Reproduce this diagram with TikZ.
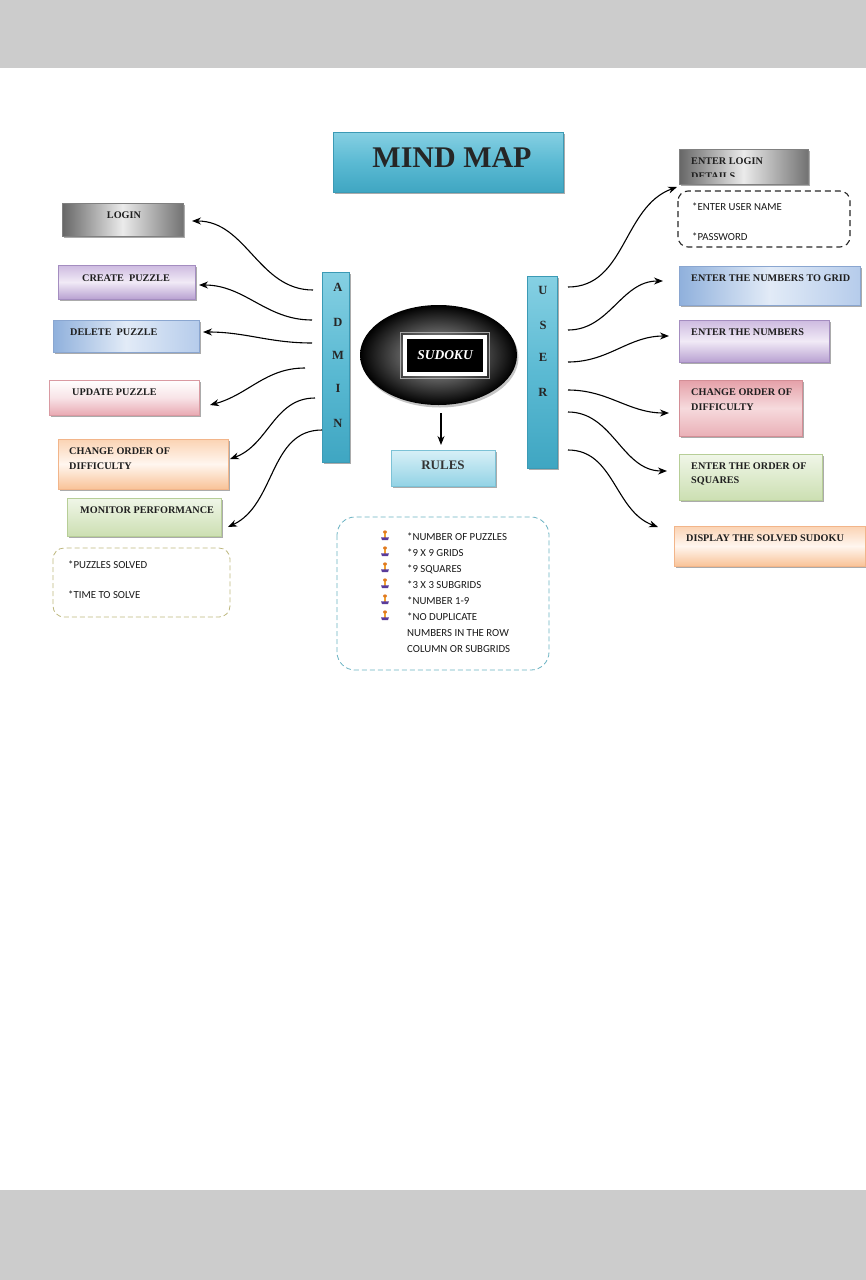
\documentclass[tikz,border=0pt]{standalone}
\usepackage{fontspec}
\setmainfont{Liberation Serif}
\newfontfamily\calfont{Carlito}
\usetikzlibrary{shadows,arrows.meta,shapes.geometric}
\definecolor{band}{HTML}{CCCCCC}
\definecolor{tealA}{HTML}{3FA6C2}
\definecolor{tealB}{HTML}{86D0E3}
\definecolor{tealC}{HTML}{5BBAD3}
\definecolor{tealD}{HTML}{3B9AB5}
\definecolor{lavA}{HTML}{CDBAE0}
\definecolor{lavB}{HTML}{F1EAF6}
\definecolor{lavC}{HTML}{B9A2D2}
\definecolor{lavD}{HTML}{A48DC0}
\definecolor{bluA}{HTML}{8FB0DC}
\definecolor{bluB}{HTML}{E2EBF7}
\definecolor{bluC}{HTML}{B6CCEB}
\definecolor{bluD}{HTML}{8AA6D0}
\definecolor{pnkA}{HTML}{E9AAB3}
\definecolor{pnkB}{HTML}{F8E4E7}
\definecolor{pnkD}{HTML}{D99AA2}
\definecolor{pnrA}{HTML}{E5A0A8}
\definecolor{pnrB}{HTML}{F6DADD}
\definecolor{pnrC}{HTML}{EAB0B7}
\definecolor{pnrD}{HTML}{D38E96}
\definecolor{pchA}{HTML}{FBD3B3}
\definecolor{pchB}{HTML}{FFF6EF}
\definecolor{pchC}{HTML}{F9C398}
\definecolor{pchD}{HTML}{F2B58A}
\definecolor{grnA}{HTML}{F0F6E8}
\definecolor{grnC}{HTML}{CCDFB2}
\definecolor{grnD}{HTML}{B7CE97}
\definecolor{rulA}{HTML}{D8F0F7}
\definecolor{rulC}{HTML}{93D3E5}
\definecolor{rulD}{HTML}{7CC2D6}
\definecolor{oliveD}{HTML}{BDB77E}
\definecolor{rulesD}{HTML}{6AB2C2}
\definecolor{bulO}{HTML}{F0A030}
\definecolor{bulR}{HTML}{E07A20}
\definecolor{bulP}{HTML}{5A3C9A}
\begin{document}
\begin{tikzpicture}[x=1pt,y=-1pt,
  box/.style={anchor=north west,inner sep=0pt,outer sep=0pt,
    drop shadow={shadow xshift=2.2pt,shadow yshift=-2.4pt,fill=black!60,opacity=.55}},
  grayb/.style={box,left color=black!60,right color=black!55,middle color=black!8,draw=black!50,line width=.5pt},
  lavb/.style={box,top color=lavA,bottom color=lavC,middle color=lavB,draw=lavD,line width=.4pt},
  blueb/.style={box,left color=bluA,right color=bluC,middle color=bluB,draw=bluD,line width=.4pt},
  pinkb/.style={box,top color=white,bottom color=pnkA,middle color=pnkB,draw=pnkD,line width=.4pt},
  pinkr/.style={box,top color=pnrA,bottom color=pnrC,middle color=pnrB,draw=pnrD,line width=.4pt},
  peachb/.style={box,top color=pchA,bottom color=pchC,middle color=pchB,draw=pchD,line width=.4pt},
  greenb/.style={box,top color=grnA,bottom color=grnC,draw=grnD,line width=.4pt},
  tealbox/.style={box,top color=tealB,bottom color=tealA,middle color=tealC,draw=tealD,line width=.6pt},
  hd/.style={font=\bfseries\fontsize{10.2}{15}\selectfont,text=black!88,inner sep=0pt,anchor=west},
  letter/.style={font=\bfseries\fontsize{12.5}{14}\selectfont,text=black!85,inner sep=0pt},
  bd/.style={font=\calfont\fontsize{10.8}{13}\selectfont,text=black!90,inner sep=0pt,anchor=west},
  conn/.style={-{Stealth[length=9pt,width=7pt]},line width=1.1pt,black}
]
\useasboundingbox (0,0) rectangle (866,1280);
\fill[band] (0,0) rectangle (866,68);
\fill[band] (0,1190) rectangle (866,1280);

% title
\node[tealbox,minimum width=230pt,minimum height=60pt] (title) at (333,132) {};
\node[font=\bfseries\fontsize{30}{34}\selectfont,text=black!85,inner sep=0pt] (titleT) at (452,158) {MIND MAP};

% central
\node[ellipse,minimum width=157pt,minimum height=100pt,inner sep=0pt,
  inner color=black!30,outer color=black,
  drop shadow={shadow xshift=1.5pt,shadow yshift=-2.5pt,fill=black!45,opacity=.5}] (ell) at (438.5,355) {};
\node[fill=black,draw=white,line width=4pt,minimum width=80pt,minimum height=37pt,inner sep=0pt,
  text=white,font=\bfseries\itshape\fontsize{13.5}{15}\selectfont] (sudoku) at (445,355.5) {SUDOKU};
\draw[black!35,line width=.5pt] ([shift={(-2.5,-2.5)}]sudoku.north west) rectangle ([shift={(2.5,2.5)}]sudoku.south east);

% rules
\node[box,top color=rulA,bottom color=rulC,draw=rulD,line width=.4pt,minimum width=104pt,minimum height=36pt] (rules) at (391,450) {};
\node[font=\bfseries\fontsize{13}{15}\selectfont,text=black!80,inner sep=0pt] (rulesT) at (443,465) {RULES};
\draw[conn,shorten <=8pt,shorten >=5pt] (ell.south -| 441,0) -- (rules.north -| 441,0);

% admin / user bars
\node[tealbox,minimum width=27pt,minimum height=190pt] (admin) at (322,272) {};
\node[letter] (ad1) at (338,287) {A};
\node[letter] (ad2) at (338,322) {D};
\node[letter] (ad3) at (338,355) {M};
\node[letter] (ad4) at (338,388) {I};
\node[letter] (ad5) at (338,423) {N};
\node[tealbox,minimum width=30pt,minimum height=192pt] (user) at (527,276) {};
\node[letter] (us1) at (543,290) {U};
\node[letter] (us2) at (543,325) {S};
\node[letter] (us3) at (543,357) {E};
\node[letter] (us4) at (543,392) {R};

% left boxes
\node[grayb,minimum width=121pt,minimum height=33pt] (login) at (62,203) {};
\node[hd,anchor=center] (loginT) at (124,215) {LOGIN};
\node[lavb,minimum width=137pt,minimum height=34pt] (create) at (58,265) {};
\node[hd] (createT) at (82,278) {CREATE\ \ PUZZLE};
\node[blueb,minimum width=146pt,minimum height=32pt] (delete) at (53,320) {};
\node[hd] (deleteT) at (70,332) {DELETE\ \ PUZZLE};
\node[pinkb,minimum width=150pt,minimum height=35pt] (update) at (49,380) {};
\node[hd] (updateT) at (72,392) {UPDATE PUZZLE};
\node[peachb,minimum width=170pt,minimum height=50pt] (changeL) at (58,439) {};
\node[hd] (changeLT1) at (69,451) {CHANGE ORDER OF};
\node[hd] (changeLT2) at (69,466) {DIFFICULTY};
\node[greenb,minimum width=154pt,minimum height=38pt] (monitor) at (67,498) {};
\node[hd] (monitorT) at (80,510) {MONITOR PERFORMANCE};
\draw[oliveD,line width=.8pt,dash pattern=on 5pt off 3pt,rounded corners=11pt] (53,548) rectangle (230,617);
\node[bd] (ps) at (68,565) {*PUZZLES SOLVED};
\node[bd] (ts) at (68,595) {*TIME TO SOLVE};

% right boxes
\node[grayb,minimum width=129pt,minimum height=35pt] (eld) at (679,149) {};
\node[hd] (eldT1) at (691,161) {ENTER LOGIN};
\begin{scope}
  \clip (680,150) rectangle (807,176.5);
  \node[hd] (eldT2) at (691,176.5) {DETAILS};
\end{scope}
\draw[black!85,line width=1.1pt,dash pattern=on 6pt off 4pt,rounded corners=10pt] (678,191) rectangle (850,247);
\node[bd] (eun) at (692,207) {*ENTER USER NAME};
\node[bd] (pw) at (692,237) {*PASSWORD};
\node[blueb,minimum width=181pt,minimum height=39pt] (grid) at (679,266) {};
\node[hd] (gridT) at (691,278) {ENTER THE NUMBERS TO GRID};
\node[lavb,minimum width=150pt,minimum height=42pt] (nums) at (679,320) {};
\node[hd] (numsT) at (691,332) {ENTER THE NUMBERS};
\node[pinkr,minimum width=123pt,minimum height=56pt] (changeR) at (679,380) {};
\node[hd] (changeRT1) at (691,392) {CHANGE ORDER OF};
\node[hd] (changeRT2) at (691,407) {DIFFICULTY};
\node[greenb,minimum width=143pt,minimum height=46pt] (order) at (679,454) {};
\node[hd] (orderT1) at (691,466) {ENTER THE ORDER OF};
\node[hd] (orderT2) at (691,481) {SQUARES};
\node[peachb,minimum width=191pt,minimum height=40pt] (display) at (674,526) {};
\node[hd] (displayT) at (686,538) {DISPLAY THE SOLVED SUDOKU};

% rules list
\draw[rulesD,line width=.8pt,dash pattern=on 5pt off 3pt,rounded corners=18pt] (337,517) rectangle (549,670);
\foreach \yy in {537,553,569,585,601,617}{
  \fill[bulO] (383.6,\yy-4) rectangle (386.4,\yy+0.5);
  \fill[bulR] (385,\yy-5) ellipse (2pt and 1.6pt);
  \fill[bulP] (381,\yy+0.3) -- (389,\yy+0.3) -- (388,\yy+3) -- (382,\yy+3) -- cycle;
}
\node[bd] (r1) at (407,537) {*NUMBER OF PUZZLES};
\node[bd] (r2) at (407,553) {*9 X 9 GRIDS};
\node[bd] (r3) at (407,569) {*9 SQUARES};
\node[bd] (r4) at (407,585) {*3 X 3 SUBGRIDS};
\node[bd] (r5) at (407,601) {*NUMBER 1-9};
\node[bd] (r6) at (407,617) {*NO DUPLICATE};
\node[bd] (r7) at (407,633) {NUMBERS IN THE ROW};
\node[bd] (r8) at (407,649) {COLUMN OR SUBGRIDS};

% left connectors
\draw[conn] ([shift={(-9,-77)}]admin.west) to[out=180,in=0] ([shift={(9,1.5)}]login.east);
\draw[conn] ([shift={(-10,-47)}]admin.west) to[out=180,in=0] ([shift={(4,3)}]create.east);
\draw[conn] ([shift={(-10,-24)}]admin.west) to[out=180,in=0] ([shift={(4,-4)}]delete.east);
\draw[conn] ([shift={(-17,1)}]admin.west) to[out=180,in=15] ([shift={(11,7.5)}]update.east);
\draw[conn] ([shift={(-7,31)}]admin.west) to[out=180,in=20] ([shift={(2,-5)}]changeL.east);
\draw[conn] ([shift={(0,63)}]admin.west) to[out=180,in=25] ([shift={(7,10)}]monitor.east);

% right connectors
\draw[conn] ([shift={(11,-85)}]user.east) to[out=0,in=200] ([shift={(-2,3)}]eld.south west);
\draw[conn] ([shift={(11,-42)}]user.east) to[out=0,in=180] ([shift={(-16,-4.5)}]grid.west);
\draw[conn] ([shift={(11,-10)}]user.east) to[out=0,in=180] ([shift={(-10,-5)}]nums.west);
\draw[conn] ([shift={(11,18)}]user.east) to[out=0,in=180] ([shift={(-10,5)}]changeR.west);
\draw[conn] ([shift={(11,40)}]user.east) to[out=0,in=180] ([shift={(-12,-6)}]order.west);
\draw[conn] ([shift={(11,78)}]user.east) to[out=0,in=160] ([shift={(-16,1)}]display.north west);
\end{tikzpicture}
\end{document}
